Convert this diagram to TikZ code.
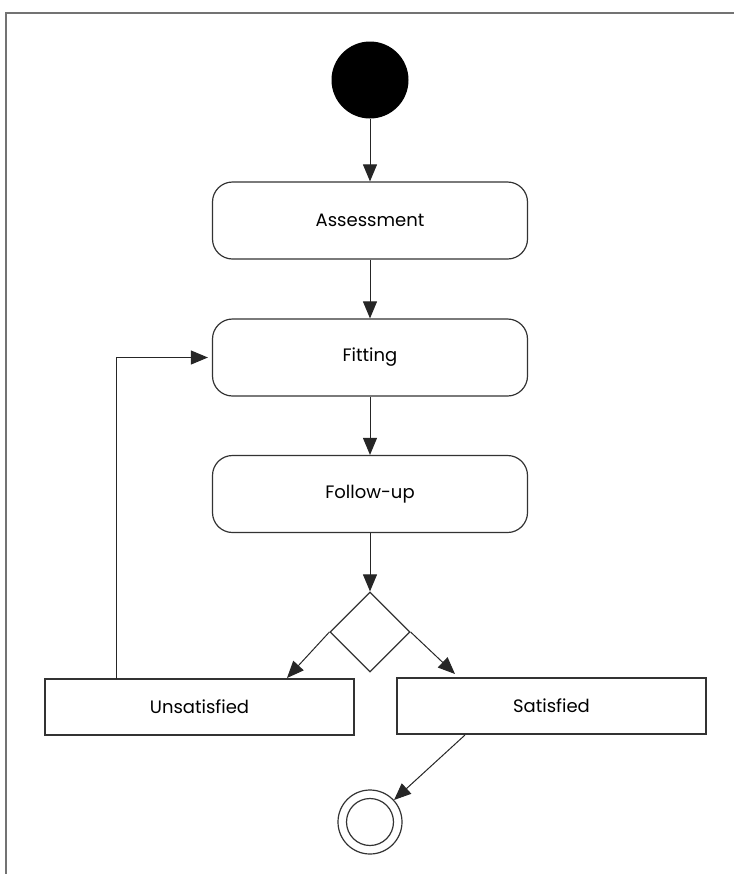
\documentclass[tikz,border=0pt]{standalone}
\usepackage{fontspec}
\setmainfont{Poppins}
\usetikzlibrary{arrows.meta,shapes.geometric}

\begin{document}
\begin{tikzpicture}[x=0.5pt,y=-0.5pt,
    act/.style={draw=black!80,line width=0.6pt,rounded corners=10pt,minimum width=157.5pt,minimum height=38.5pt,font=\fontsize{9}{11}\selectfont},
    res/.style={draw=black!80,line width=0.6pt,minimum width=154.5pt,minimum height=28pt,font=\fontsize{9}{11}\selectfont},
    arr/.style={draw=black!85,line width=0.5pt,-{Triangle[length=8.5pt,width=7pt]}}]
  \useasboundingbox (0,0) rectangle (734,874);
  % frame
  \draw[black!55,line width=0.7pt] (734,13) -- (6,13) -- (6,874);

  \node[circle,fill=black,minimum size=38.5pt,inner sep=0pt] (start) at (370,80) {};
  \node[act] (assess) at (370,220.5) {Assessment};
  \node[act] (fit) at (370,357.5) {Fitting};
  \node[act] (follow) at (370,494) {Follow-up};
  \node[diamond,draw=black!80,line width=0.6pt,minimum width=40pt,minimum height=40pt,inner sep=0pt] (dec) at (370,632) {};
  \node[res] (unsat) at (199.5,707) {Unsatisfied};
  \node[res] (sat) at (551.5,706) {Satisfied};
  \node[circle,draw=black!80,line width=0.6pt,minimum size=32pt,inner sep=0pt] (end) at (370,822) {};
  \node[circle,draw=black!80,line width=0.6pt,minimum size=23.5pt,inner sep=0pt] (endin) at (end.center) {};

  \coordinate (uTip) at (287,678);
  \coordinate (sTip) at (455,674);
  \coordinate (uOut) at (116,679);
  \coordinate (sOut) at (465,735);

  \draw[arr] (start) -- (assess);
  \draw[arr] (assess) -- (fit);
  \draw[arr] (fit) -- (follow);
  \draw[arr] (follow) -- (dec);
  \draw[arr] (dec.west) -- (uTip);
  \draw[arr] (dec.east) -- (sTip);
  \draw[arr] (uOut) |- ([xshift=-2pt]fit.west);
  \draw[arr] (sOut) -- (end);
\end{tikzpicture}
\end{document}
